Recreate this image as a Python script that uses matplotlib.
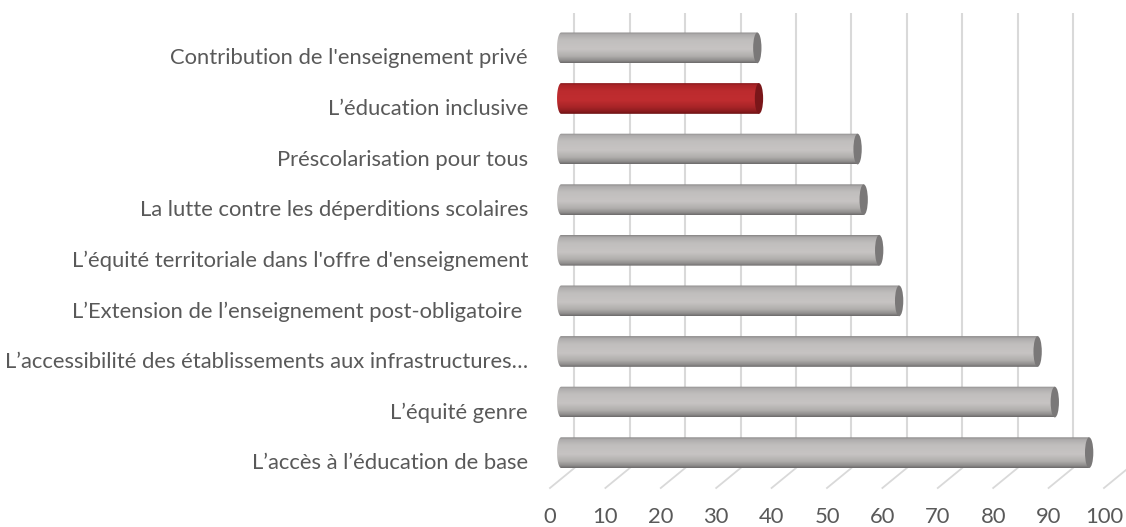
import numpy as np
import matplotlib
matplotlib.use("Agg")
import matplotlib.pyplot as plt
from matplotlib.patches import Ellipse, PathPatch
from matplotlib.path import Path
from matplotlib.colors import to_rgb

# ---------------- data ----------------
categories = [
    "L’accès à l’éducation de base",
    "L’équité genre",
    "L’accessibilité des établissements aux infrastructures…",
    "L’Extension de l’enseignement post-obligatoire ",
    "L’équité territoriale dans l'offre d'enseignement",
    "La lutte contre les déperditions scolaires",
    "Préscolarisation pour tous",
    "L’éducation inclusive",
    "Contribution de l'enseignement privé",
]
values = [95.3, 89.1, 86.0, 61.0, 57.4, 54.6, 53.5, 35.7, 35.4]
highlight = "L’éducation inclusive"
x_ticks = list(range(0, 101, 10))

# ---------------- style / geometry ----------------
PX_PER_UNIT = 5.54      # px per value unit
PX_PER_CAT = 50.6       # px per category
W, H = 1126, 527
X0_PX = 550             # front-plane zero
CAT0_PX = 463.3         # front-plane position of first category (from top)
DEPTH_X = 4.4           # oblique depth offset (value units)
DEPTH_Y = 0.395         # oblique depth offset (category units)
BAR_DX = 2.02
BAR_DY = 0.21
BAR_H = 0.607
CAP_A = 0.75            # half width of end ellipse (value units)
FLOOR_FRONT = -0.488
GRID_TOP = 8.90
TICK_Y = -1.055
LABEL_X = -3.97
FONT_SIZE = 15.8
TEXT_COLOR = "#595959"
GRID_COLOR = "#d9d9d9"

gray_stops = [(0.0, "#858383"), (0.07, "#adabab"), (0.25, "#c0bebd"), (0.55, "#c7c4c3"),
              (0.78, "#b0aeac"), (0.92, "#8f8d8c"), (1.0, "#6b6969")]
red_stops = [(0.0, "#86171a"), (0.07, "#ab2427"), (0.25, "#bc2b2e"), (0.55, "#c02d30"),
             (0.78, "#a72427"), (0.92, "#8a1b1e"), (1.0, "#6a1012")]
gray_cap = "#7a7878"
red_cap = "#7a1619"

plt.rcParams['font.family'] = ['Lato', 'DejaVu Sans']

fig = plt.figure(figsize=(W / 100, H / 100), dpi=100)
ax = fig.add_axes([0, 0, 1, 1])
ax.axis("off")


def gradient(stops, n=200):
    pos = np.array([s[0] for s in stops])
    cols = np.array([to_rgb(s[1]) for s in stops])
    t = np.linspace(0, 1, n)
    arr = np.stack([np.interp(t, pos, cols[:, k]) for k in range(3)], axis=-1)
    return arr[:, None, :]


# back-wall gridlines and floor diagonals
floor_back = FLOOR_FRONT + DEPTH_Y
for v in x_ticks:
    ax.plot([v + DEPTH_X, v + DEPTH_X], [floor_back, GRID_TOP], color=GRID_COLOR, lw=1.5, zorder=1,
            solid_capstyle="butt")
    ax.plot([v + DEPTH_X, v], [floor_back, FLOOR_FRONT], color=GRID_COLOR, lw=1.3, zorder=1)

# cylinders
theta = np.linspace(np.pi / 2, 3 * np.pi / 2, 40)
for i, (cat, val) in enumerate(zip(categories, values)):
    yc = i + BAR_DY
    yt, yb = yc + BAR_H / 2, yc - BAR_H / 2
    xl, xr = BAR_DX, BAR_DX + val
    is_hi = cat == highlight
    stops = red_stops if is_hi else gray_stops
    # clip path: rectangle with rounded (half-ellipse) left end
    ell_x = xl + CAP_A * np.cos(theta)
    ell_y = yc + (BAR_H / 2) * np.sin(theta)
    pts = [(xr, yt)] + list(zip(ell_x, ell_y)) + [(xr, yb), (xr, yt)]
    path = Path(pts, closed=True)
    patch = PathPatch(path, facecolor="none", edgecolor="none", transform=ax.transData)
    ax.add_patch(patch)
    im = ax.imshow(gradient(stops), extent=(xl - CAP_A, xr, yb, yt), aspect="auto",
                   interpolation="bilinear", zorder=3)
    im.set_clip_path(patch)
    cap = Ellipse((xr, yc), 2 * CAP_A, BAR_H, facecolor=red_cap if is_hi else gray_cap,
                  edgecolor="none", zorder=4)
    ax.add_patch(cap)
    ax.text(LABEL_X, i, cat, ha="right", va="center", fontsize=FONT_SIZE, color=TEXT_COLOR)

for v in x_ticks:
    ax.text(v, TICK_Y, str(v), ha="center", va="center", fontsize=FONT_SIZE, color=TEXT_COLOR)

ax.set_xlim(-X0_PX / PX_PER_UNIT, (W - X0_PX) / PX_PER_UNIT)
ax.set_ylim(-(H - CAT0_PX) / PX_PER_CAT, CAT0_PX / PX_PER_CAT)

fig.savefig("out.png", dpi=100, facecolor="white")
